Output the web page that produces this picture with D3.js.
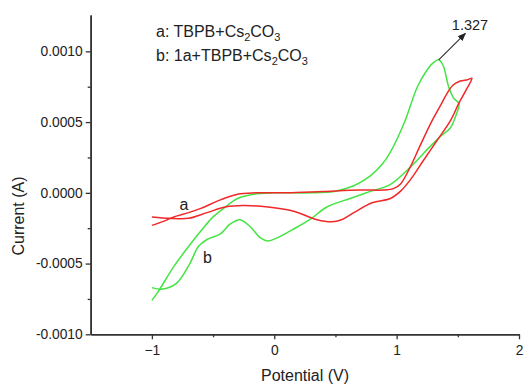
<!DOCTYPE html>
<html><head><meta charset="utf-8">
<script src="https://cdnjs.cloudflare.com/ajax/libs/d3/7.8.5/d3.min.js"></script>
<style>html,body{margin:0;padding:0;background:#fff}svg{display:block;font-family:Arial,"Liberation Sans",sans-serif}</style>
</head><body>
<svg id="c" width="524" height="384"></svg>
<script>
// Curve a: TBPB+Cs2CO3 (red), CV loop in scan order
const aPotential = [-1.00,-0.90,-0.82,-0.70,-0.60,-0.44,-0.30,-0.15,0.10,0.40,0.70,0.90,0.975,1.03,1.11,1.19,1.29,1.36,1.41,1.46,1.52,1.58,1.615,
  1.576,1.507,1.44,1.33,1.22,1.11,1.03,0.95,0.80,0.65,0.55,0.47,0.35,0.16,-0.05,-0.25,-0.40,-0.55,-0.70,-0.85,-1.00];
const aCurrent = [-0.00023,-0.00020,-0.00017,-0.00014,-0.00011,-0.00005,-0.00001,0.0,0.0,0.00001,0.00002,0.00002,0.00003,0.00006,0.00018,0.00033,0.00051,0.00062,0.00070,0.00076,0.00079,0.00080,0.00081,
  0.00074,0.00063,0.00051,0.00037,0.00023,0.00009,0.00001,-0.00004,-0.00007,-0.00014,-0.00019,-0.000205,-0.00019,-0.00013,-0.00010,-0.00009,-0.00010,-0.00014,-0.00018,-0.00018,-0.00017];
// Curve b: 1a+TBPB+Cs2CO3 (green)
const bPotential = [-1.00,-0.95,-0.82,-0.71,-0.60,-0.50,-0.40,-0.30,-0.17,0.0,0.30,0.49,0.65,0.785,0.88,0.95,1.06,1.17,1.25,1.30,1.344,1.38,1.40,1.425,1.466,1.51,
  1.49,1.44,1.36,1.276,1.11,0.95,0.785,0.62,0.43,0.29,0.15,0.02,-0.05,-0.11,-0.196,-0.28,-0.36,-0.44,-0.55,-0.62,-0.69,-0.80,-0.91,-1.00];
const bCurrent = [-0.00076,-0.00070,-0.00052,-0.00039,-0.00027,-0.00017,-0.00010,-0.00004,-0.00001,0.0,0.0,0.00001,0.00005,0.00012,0.00020,0.00029,0.00049,0.00075,0.00087,0.00092,0.00094,0.00090,0.00084,0.00075,0.00067,0.00063,
  0.00056,0.00046,0.00040,0.00033,0.00018,0.00006,0.00001,-0.00004,-0.00010,-0.00019,-0.00026,-0.00032,-0.00034,-0.00032,-0.00024,-0.00019,-0.00022,-0.00029,-0.00033,-0.00038,-0.00050,-0.00064,-0.00068,-0.00067];
const xTicks = [-1, 0, 1, 2];
const xMinorTicks = [-0.5, 0.5, 1.5];
const yTicks = [-0.0010, -0.0005, 0.0, 0.0005, 0.0010];
const yTickLabels = ["-0.0010", "-0.0005", "0.0000", "0.0005", "0.0010"];
const yMinorTicks = [-0.00075, -0.00025, 0.00025, 0.00075];
const peakPotential = 1.344, peakCurrent = 0.00094, peakLabel = "1.327";
const arrowEnd = [1.562, 0.001127];

const svg = d3.select("#c");
const x = d3.scaleLinear().domain([-1.5, 2]).range([90.7, 519]);
const y = d3.scaleLinear().domain([-0.001, 0.001257]).range([334.3, 15]);
const axisColor = "#333";

// X axis
const xg = svg.append("g").attr("transform", `translate(0,${y(-0.001)})`);
xg.call(d3.axisBottom(x).tickValues(xTicks).tickFormat(d3.format("d")).tickSize(5).tickSizeOuter(0));
xg.append("g").call(d3.axisBottom(x).tickValues(xMinorTicks).tickFormat("").tickSize(3).tickSizeOuter(0));
// Y axis
const yg = svg.append("g").attr("transform", `translate(${x(-1.5)},0)`);
yg.call(d3.axisLeft(y).tickValues(yTicks).tickFormat((d,i)=>yTickLabels[i]).tickSize(5).tickSizeOuter(0));
yg.append("g").call(d3.axisLeft(y).tickValues(yMinorTicks).tickFormat("").tickSize(3).tickSizeOuter(0));
svg.selectAll(".domain").attr("stroke", axisColor).attr("stroke-width", 1.6);
svg.selectAll(".tick line").attr("stroke", axisColor).attr("stroke-width", 1.3);
svg.selectAll(".tick text").attr("fill", "#222").attr("font-size", 13.8).attr("font-family", "Arial, 'Liberation Sans', sans-serif");
xg.selectAll(".tick text").attr("dy", "0.95em");

// Axis titles
svg.append("text").attr("x", 305).attr("y", 381).attr("text-anchor", "middle")
  .attr("font-size", 16).attr("fill", "#222").text("Potential (V)");
svg.append("text").attr("transform", "translate(24,216) rotate(-90)").attr("text-anchor", "middle")
  .attr("font-size", 16).attr("fill", "#222").text("Current (A)");

// Curves
const line = d3.line().x(d => x(d[0])).y(d => y(d[1])).curve(d3.curveCatmullRom.alpha(0.5));
const aData = aPotential.map((v,i)=>[v, aCurrent[i]]);
const bData = bPotential.map((v,i)=>[v, bCurrent[i]]);
svg.append("path").attr("d", line(bData)).attr("fill","none").attr("stroke","#44e444").attr("stroke-width",1.5);
svg.append("path").attr("d", line(aData)).attr("fill","none").attr("stroke","#f02828").attr("stroke-width",1.5);

// Arrow annotation
svg.append("defs").append("marker").attr("id","arr").attr("viewBox","0 0 10 10").attr("refX",9).attr("refY",5)
  .attr("markerWidth",7).attr("markerHeight",7).attr("orient","auto")
  .append("path").attr("d","M0,1 L10,5 L0,9 Z").attr("fill","#222");
svg.append("line").attr("x1", x(peakPotential)).attr("y1", y(peakCurrent)).attr("x2", x(arrowEnd[0])).attr("y2", y(arrowEnd[1]))
  .attr("stroke","#333").attr("stroke-width",1.2).attr("marker-end","url(#arr)");
svg.append("text").attr("x", 470).attr("y", 29.5).attr("text-anchor","middle").attr("font-size",14.5).attr("fill","#222").text(peakLabel);

// Curve labels
svg.append("text").attr("x", 184).attr("y", 209.5).attr("text-anchor","middle").attr("font-size",16).attr("fill","#222").text("a");
svg.append("text").attr("x", 207.5).attr("y", 263).attr("text-anchor","middle").attr("font-size",16).attr("fill","#222").text("b");

// Legend text with subscripts
function legend(yPos, parts) {
  const t = svg.append("text").attr("x", 156).attr("y", yPos).attr("font-size", 16).attr("fill", "#222");
  let shift = 0;
  parts.forEach(p => {
    const sub = p[1];
    const dy = sub ? 4 - shift : -shift;
    shift = sub ? 4 : 0;
    t.append("tspan").attr("dy", dy).attr("font-size", sub ? 11 : 16).text(p[0]);
  });
}
legend(36.5, [["a: TBPB+Cs",0],["2",1],["CO",0],["3",1]]);
legend(61, [["b: 1a+TBPB+Cs",0],["2",1],["CO",0],["3",1]]);
</script>
</body></html>
